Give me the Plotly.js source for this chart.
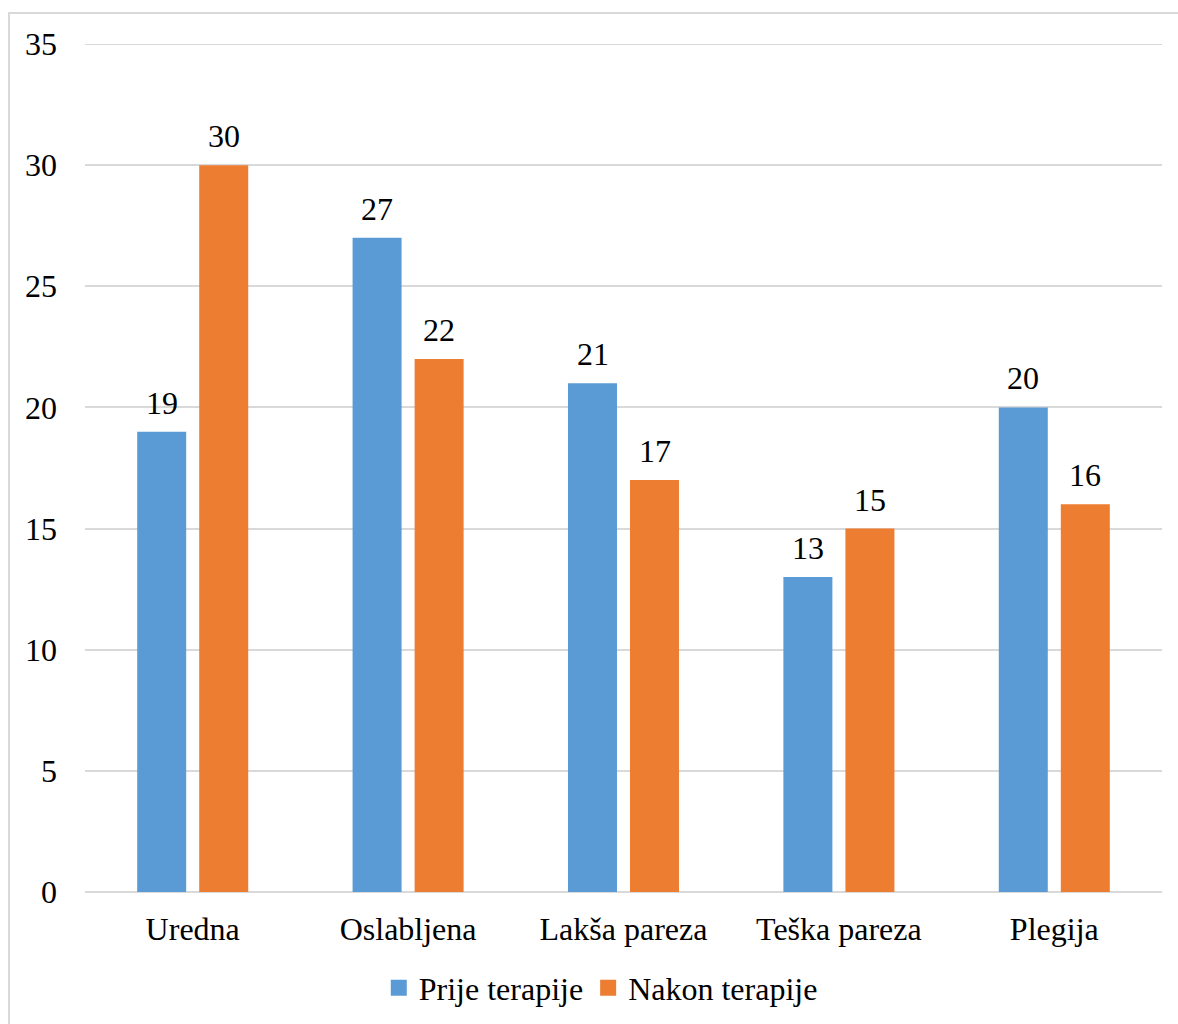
<!DOCTYPE html>
<html>
<head>
<meta charset="utf-8">
<script src="https://cdn.plot.ly/plotly-3.0.1.min.js"></script>
<style>
html,body{margin:0;padding:0;background:#fff;}
#wrap{position:relative;width:1178px;height:1024px;overflow:hidden;}
#frame{position:absolute;left:8px;top:12px;width:1300px;height:1100px;border-left:2px solid #d9d9d9;border-top:2px solid #d9d9d9;pointer-events:none;}
#chart{position:absolute;left:0;top:0;width:1178px;height:1024px;}
</style>
</head>
<body>
<div id="wrap">
<div id="chart"></div>
<div id="frame"></div>
</div>
<script>
const categories = ["Uredna", "Oslabljena", "Lakša pareza", "Teška pareza", "Plegija"];
const prijeValues = [19, 27, 21, 13, 20];
const nakonValues = [30, 22, 17, 15, 16];
const seriesNames = ["Prije terapije", "Nakon terapije"];
const seriesColors = ["#5B9BD5", "#ED7D31"];
const yTicks = [0, 5, 10, 15, 20, 25, 30, 35];

const fontFam = '"Liberation Serif", "Times New Roman", serif';
const FS = 32;

const seriesValues = [prijeValues, nakonValues];
const traces = [];
seriesValues.forEach((vals, i) => {
  traces.push({type:'bar', name:seriesNames[i], x:categories, y:vals,
    marker:{color:seriesColors[i]}, showlegend:false, hoverinfo:'skip'});
});
// legend proxies with larger square symbols
seriesValues.forEach((vals, i) => {
  traces.push({type:'scatter', mode:'markers', name:seriesNames[i], x:[null], y:[null],
    marker:{symbol:'square', size:17, color:seriesColors[i]}, showlegend:true, hoverinfo:'skip'});
});

// data labels
const annotations = [];
const shifts = [-31, 31];
seriesValues.forEach((vals, i) => {
  vals.forEach((v, j) => {
    annotations.push({x:categories[j], y:v, xref:'x', yref:'y', text:String(v), showarrow:false,
      xshift:shifts[i], yshift:29, yanchor:'middle', xanchor:'center',
      font:{family:fontFam, size:FS, color:'#000'}});
  });
});

const yMax = yTicks[yTicks.length - 1];

const layout = {
  width:1178, height:1024,
  margin:{l:85, r:16, t:44, b:132},
  paper_bgcolor:'rgba(0,0,0,0)', plot_bgcolor:'rgba(0,0,0,0)',
  barmode:'group', bargap:0.424, bargroupgap:0.21,
  font:{family:fontFam, size:FS, color:'#000'},
  showlegend:true,
  annotations:annotations,
  shapes:[{type:'line', xref:'paper', x0:0, x1:1, yref:'y', y0:yMax, y1:yMax,
           line:{color:'#d9d9d9', width:2}, layer:'below'}],
  legend:{orientation:'h', xref:'container', yref:'container', x:0.51, xanchor:'center',
          y:1 - 988/1024, yanchor:'middle',
          font:{family:fontFam, size:FS, color:'#000'}, traceorder:'normal', itemwidth:30},
  xaxis:{type:'category', showgrid:false, showline:false, zeroline:false, ticks:'', automargin:false,
         tickfont:{family:fontFam, size:FS, color:'#000'}, ticklabelstandoff:15},
  yaxis:{range:[0,yMax], tickvals:yTicks, ticktext:yTicks.map(String), showgrid:true, automargin:false,
         gridcolor:'#d9d9d9', gridwidth:2, zeroline:true, zerolinecolor:'#d9d9d9', zerolinewidth:2,
         showline:false, ticks:'', tickfont:{family:fontFam, size:FS, color:'#000'}, ticklabelstandoff:27}
};

Plotly.newPlot('chart', traces, layout, {displayModeBar:false, staticPlot:true});
</script>
</body>
</html>
